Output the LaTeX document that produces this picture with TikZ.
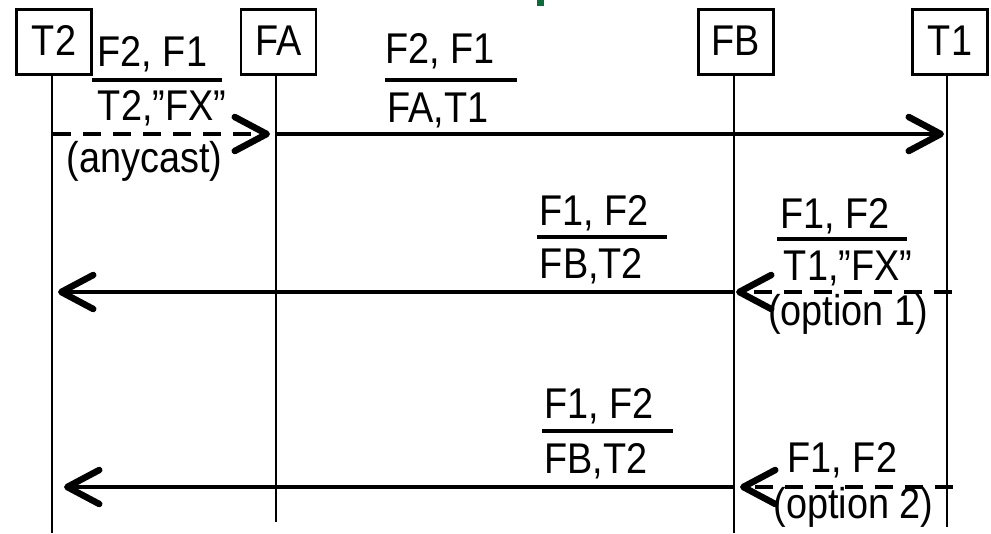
\documentclass[tikz,border=0pt]{standalone}
\usepackage{fontspec}
\setmainfont{Liberation Sans}[FakeStretch=0.88]
\usetikzlibrary{arrows.meta}
\definecolor{markgreen}{HTML}{0B6B3A}
\begin{document}
\begin{tikzpicture}[x=1pt,y=-1pt,
  font=\fontsize{43}{50}\selectfont,
  entity/.style={draw, line width=2.8pt, minimum width=75pt, minimum height=65pt,
    inner sep=0pt, text height=31pt, text depth=4pt},
  lifeline/.style={line width=2.8pt},
  txt/.style={inner sep=0pt, anchor=base},
  fracbar/.style={line width=3.2pt},
  msg/.style={line width=4.8pt,
    -{Straight Barb[length=32pt,width=34pt,line width=6.5pt,round]}},
  msgdash/.style={msg, dash pattern=on 18pt off 12pt},
]
\useasboundingbox (0,0) rectangle (991,533);

% small mark at the top edge
\fill[markgreen] (537,0) rectangle (544,6);

% entities
\node[entity] (T2) at (54,42) {T2};
\node[entity] (FA) at (278.5,42) {FA};
\node[entity] (FB) at (736,42) {FB};
\node[entity] (T1) at (950,42) {T1};

% lifelines
\coordinate (T2end) at (52,533);
\coordinate (FAend) at (276,522);
\coordinate (FBend) at (734,533);
\coordinate (T1end) at (947,527);
\draw[lifeline] (T2end |- T2.south) -- (T2end);
\draw[lifeline] (FAend |- FA.south) -- (FAend);
\draw[lifeline] (FBend |- FB.south) -- (FBend);
\draw[lifeline] (T1end |- T1.south) -- (T1end);

% message endpoints
\coordinate (m1a) at (53,134);   \coordinate (m1b) at (270,134);
\coordinate (m2a) at (276,134);  \coordinate (m2b) at (944,134);
\coordinate (m3a) at (734,292);  \coordinate (m3b) at (58,292);
\coordinate (m4a) at (952,292);  \coordinate (m4b) at (736,292);
\coordinate (m5a) at (734,487);  \coordinate (m5b) at (64,487);
\coordinate (m6a) at (953,487);  \coordinate (m6b) at (740,487);

\draw[msgdash] (m1a) -- (m1b);
\draw[msg] (m2a) -- (m2b);
\draw[msg] (m3a) -- (m3b);
\draw[msgdash] (m4a) -- (m4b);
\draw[msg] (m5a) -- (m5b);
\draw[msgdash] (m6a) -- (m6b);

% labels: T2 -> FA
\node[txt] (l1a) at (152.5,66) {F2, F1};
\draw[fracbar] (92,80) -- (222,80);
\node[txt] (l1b) at (162,120) {T2,”FX”};
\node[txt] (l1c) at (144.5,172) {(anycast)};

% labels: FA -> T1
\node[txt] (l2a) at (440,63) {F2, F1};
\draw[fracbar] (385,80) -- (517,80);
\node[txt] (l2b) at (438,122) {FA,T1};

% labels: FB -> T2 (first)
\node[txt] (l3a) at (594,225) {F1, F2};
\draw[fracbar] (537,237) -- (667,237);
\node[txt] (l3b) at (591.5,278) {FB,T2};

% labels: T1 -> FB (option 1)
\node[txt] (l4a) at (835,228) {F1, F2};
\draw[fracbar] (777,239) -- (907,239);
\node[txt] (l4b) at (848,280) {T1,”FX”};
\node[txt] (l4c) at (848,325) {(option 1)};

% labels: FB -> T2 (second)
\node[txt] (l5a) at (599,418) {F1, F2};
\draw[fracbar] (542,431) -- (673,431);
\node[txt] (l5b) at (596,473) {FB,T2};

% labels: T1 -> FB (option 2)
\node[txt] (l6a) at (842.5,472) {F1, F2};
\node[txt] (l6b) at (853.5,518) {(option 2)};
\end{tikzpicture}
\end{document}
